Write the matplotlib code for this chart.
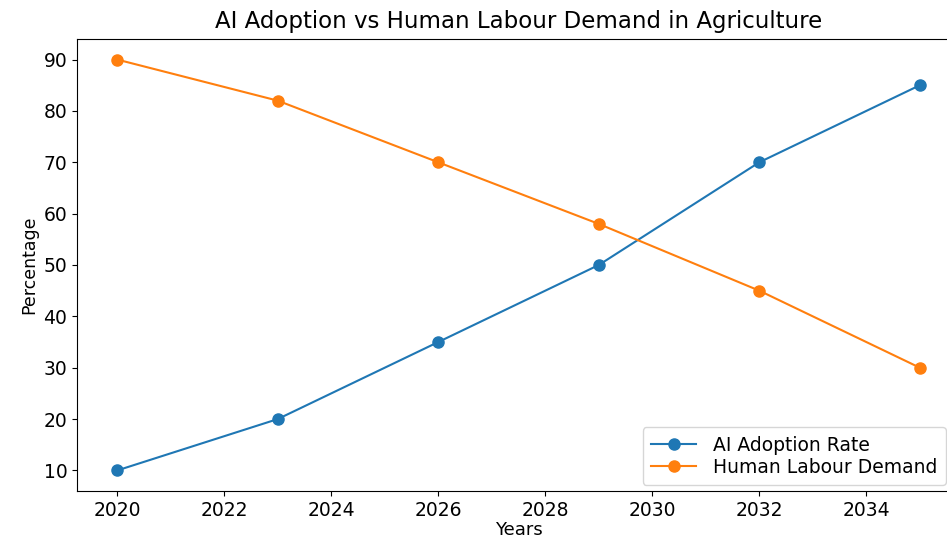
import matplotlib
matplotlib.use("Agg")
import matplotlib.pyplot as plt

years = [2020, 2023, 2026, 2029, 2032, 2035]
ai_adoption = [10, 20, 35, 50, 70, 85]
labour_demand = [90, 82, 70, 58, 45, 30]

fig = plt.figure(figsize=(9.47, 5.4), dpi=100)
ax = fig.add_axes([77/947, 1 - 491/540, (960 - 77)/947, (491 - 39)/540])
ax.plot(years, ai_adoption, marker='o', color='#1f77b4', label='AI Adoption Rate', markersize=8, linewidth=1.5)
ax.plot(years, labour_demand, marker='o', color='#ff7f0e', label='Human Labour Demand', markersize=8, linewidth=1.5)
ax.set_title('AI Adoption vs Human Labour Demand in Agriculture', fontsize=16.5, pad=8)
ax.set_xlabel('Years', fontsize=13, labelpad=1)
ax.set_ylabel('Percentage', fontsize=12.5)
ax.tick_params(labelsize=13.5)
ax.legend(loc='lower right', fontsize=13.5, bbox_to_anchor=(0.984, 0.013), borderaxespad=0,
          labelspacing=0.15, borderpad=0.45, handlelength=2.4, handletextpad=0.9)
fig.savefig('out.png', dpi=100)
